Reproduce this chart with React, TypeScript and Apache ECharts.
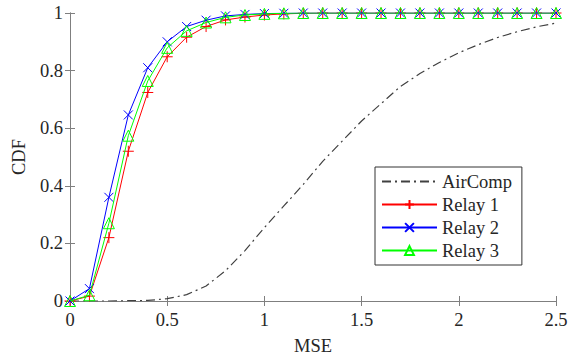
import React, { useEffect, useRef } from "react";
import * as echarts from "echarts";

const mse = [0, 0.1, 0.2, 0.3, 0.4, 0.5, 0.6, 0.7, 0.8, 0.9, 1.0, 1.1, 1.2, 1.3, 1.4, 1.5, 1.6, 1.7, 1.8, 1.9, 2.0, 2.1, 2.2, 2.3, 2.4, 2.5];
const airComp = [0, 0, 0, 0.001, 0.002, 0.008, 0.022, 0.052, 0.105, 0.175, 0.255, 0.33, 0.405, 0.485, 0.555, 0.625, 0.685, 0.745, 0.79, 0.828, 0.862, 0.89, 0.915, 0.935, 0.952, 0.965];
const relay1 = [0, 0.017, 0.22, 0.52, 0.724, 0.848, 0.916, 0.953, 0.976, 0.986, 0.993, 0.997, 0.999, 1, 1, 1, 1, 1, 1, 1, 1, 1, 1, 1, 1, 1];
const relay2 = [0, 0.043, 0.36, 0.646, 0.81, 0.9, 0.953, 0.975, 0.99, 0.995, 0.998, 0.999, 1, 1, 1, 1, 1, 1, 1, 1, 1, 1, 1, 1, 1, 1];
const relay3 = [0, 0.02, 0.27, 0.574, 0.764, 0.879, 0.938, 0.967, 0.985, 0.993, 0.997, 0.999, 1, 1, 1, 1, 1, 1, 1, 1, 1, 1, 1, 1, 1, 1];
const seriesNames = ["AirComp", "Relay 1", "Relay 2", "Relay 3"];

const FONT = "Liberation Serif";
const FS = 18.5;
const AXIS_COLOR = "#7f7f7f";
const TEXT_COLOR = "#262626";

const pair = (ys: number[]) => mse.map((x, i) => [x, ys[i]]);

export default function App() {
  const ref = useRef<HTMLDivElement>(null);
  useEffect(() => {
    if (!ref.current) return;
    const chart = echarts.init(ref.current, null, { renderer: "svg" });
    const axisCommon = {
      axisLine: { show: true, lineStyle: { color: AXIS_COLOR, width: 1 } },
      axisTick: { show: true, inside: true, length: 5, lineStyle: { color: AXIS_COLOR } },
      splitLine: { show: false },
    };
    chart.setOption({
      animation: false,
      backgroundColor: "#fff",
      textStyle: { fontFamily: FONT },
      grid: { left: 70, right: 19, top: 13, bottom: 56, containLabel: false },
      xAxis: [
        {
          type: "value", min: 0, max: 2.5, interval: 0.5,
          ...axisCommon,
          axisLabel: { fontFamily: FONT, fontSize: FS, color: TEXT_COLOR, margin: 9 },
          name: "MSE", nameLocation: "middle", nameGap: 35,
          nameTextStyle: { fontFamily: FONT, fontSize: FS, color: TEXT_COLOR },
        },
        {
          type: "value", min: 0, max: 2.5, interval: 0.5, position: "top",
          ...axisCommon, axisLabel: { show: false },
        },
      ],
      yAxis: [
        {
          type: "value", min: 0, max: 1, interval: 0.2,
          ...axisCommon,
          axisLabel: { fontFamily: FONT, fontSize: FS, color: TEXT_COLOR, margin: 7 },
          name: "CDF", nameLocation: "middle", nameGap: 33,
          nameTextStyle: { fontFamily: FONT, fontSize: FS, color: TEXT_COLOR },
        },
        {
          type: "value", min: 0, max: 1, interval: 0.2, position: "right",
          ...axisCommon, axisLabel: { show: false },
        },
      ],
      legend: {
        orient: "vertical",
        left: 375, top: 167,
        width: 147,
        padding: [5, 10, 5, 6],
        borderColor: "#333",
        borderWidth: 1,
        backgroundColor: "#fff",
        itemWidth: 55, itemHeight: 11, itemGap: 4,
        textStyle: { fontFamily: FONT, fontSize: FS, color: TEXT_COLOR },
        data: seriesNames,
      },
      series: [
        {
          name: seriesNames[0], type: "line", data: pair(airComp),
          showSymbol: false, symbol: "none", color: "#404040",
          itemStyle: { color: "transparent", borderWidth: 0 },
          lineStyle: { color: "#404040", width: 1.2, type: [9, 4, 2, 4] },
          z: 2,
        },
        {
          name: seriesNames[1], type: "line", data: pair(relay1),
          symbol: "path://M5,0L5,10M0,5L10,5", symbolSize: 11, showAllSymbol: true,
          color: "#ff0000",
          itemStyle: { color: "#ff0000", borderColor: "#ff0000", borderWidth: 1 },
          lineStyle: { color: "#ff0000", width: 1 },
          z: 3,
        },
        {
          name: seriesNames[2], type: "line", data: pair(relay2),
          symbol: "path://M0,0L10,10M10,0L0,10", symbolSize: 9, showAllSymbol: true,
          color: "#0000ff",
          itemStyle: { color: "#0000ff", borderColor: "#0000ff", borderWidth: 1 },
          lineStyle: { color: "#0000ff", width: 1 },
          z: 4,
        },
        {
          name: seriesNames[3], type: "line", data: pair(relay3),
          symbol: "triangle", symbolSize: 11, showAllSymbol: true,
          color: "#00ff00",
          itemStyle: { color: "transparent", borderColor: "#00ff00", borderWidth: 1 },
          lineStyle: { color: "#00ff00", width: 1 },
          z: 5,
        },
      ],
    });
    return () => chart.dispose();
  }, []);
  return <div ref={ref} style={{ width: 575, height: 360, position: "absolute", left: 0, top: 0 }} />;
}
